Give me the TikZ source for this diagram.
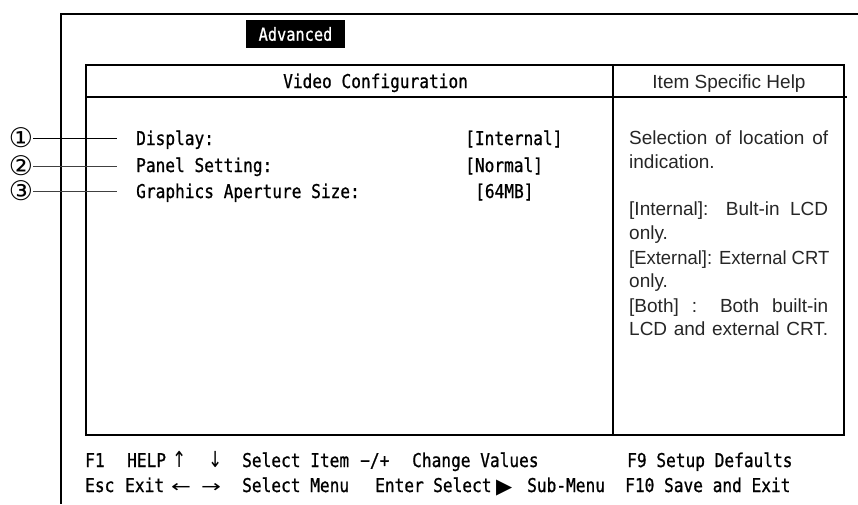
\documentclass[tikz,border=0pt]{standalone}
\usepackage{fontspec}
\usepackage{graphicx}
\setmainfont{Liberation Sans}
\newfontfamily\biosfont[FakeStretch=0.85,FakeBold=0.8]{DejaVu Sans Mono}
\newfontfamily\symfont{DejaVu Sans}
\newcommand\jline[1]{\makebox[199pt][s]{#1}}
\begin{document}
\begin{tikzpicture}[x=1pt,y=-1pt,
  bios/.style={font=\biosfont\fontsize{19}{21}\selectfont, inner sep=0pt, anchor=base west},
  sym/.style={font=\symfont\fontsize{17}{18}\selectfont, inner sep=0pt, anchor=base west},
  help/.style={font=\fontsize{19}{22}\selectfont, inner sep=0pt, anchor=base west, text=black!85},
  frame/.style={line width=2pt},
  boxline/.style={line width=1.3pt},
  lead/.style={line width=1pt},
  num/.style={font=\symfont\fontsize{27}{28}\selectfont, inner sep=0pt}]
\useasboundingbox (0,0) rectangle (858,504);
% outer frame (top and left edges only)
\coordinate (fTL) at (61,14);
\coordinate (fTR) at (858,14);
\coordinate (fBL) at (61,504);
\draw[frame] (fTR) -- (fTL) -- (fBL);
% menu title
\node[fill=black, text=white, minimum width=99pt, minimum height=28pt, inner sep=0pt,
      font=\biosfont\fontsize{18}{20}\selectfont] (adv) at (295.5,34) {Advanced};
% inner box
\coordinate (bTL) at (86,65);
\coordinate (bBR) at (844,435);
\draw[boxline] (bTL) rectangle (bBR);
\coordinate (hL) at (86,97);
\coordinate (hR) at (847,97);
\draw[boxline] (hL) -- (hR);
\coordinate (dT) at (613,65);
\coordinate (dB) at (613,435);
\draw[boxline] (dT) -- (dB);
% headers
\node[bios] (vc) at (283,88) {Video Configuration};
\node[help, anchor=base, text=black!85] (ish) at (729,88) {Item Specific Help};
% items
\node[bios] (i1) at (136,145) {Display:};
\node[bios] (i2) at (136,172) {Panel Setting:};
\node[bios] (i3) at (136,198) {Graphics Aperture Size:};
\node[bios] (v1) at (465,145) {[Internal]};
\node[bios] (v2) at (465,172) {[Normal]};
\node[bios] (v3) at (475,198) {[64MB]};
% callouts
\node[num] (n1) at (21,138) {①};
\node[num] (n2) at (21,166) {②};
\node[num] (n3) at (21,191) {③};
\coordinate (l1) at (117,138);
\coordinate (l2) at (117,166);
\coordinate (l3) at (117,191);
\draw[lead] (n1.east) -- (l1);
\draw[lead, black!75] (n2.east) -- (l2);
\draw[lead, black!75] (n3.east) -- (l3);
% help text
\node[help] (h1) at (629,144) {\jline{Selection of location of}};
\node[help] (h2) at (629,168) {indication.};
\node[help] (h3) at (629,215) {\jline{[Internal]: Bult-in LCD}};
\node[help] (h4) at (629,239) {only.};
\node[help] (h5) at (629,264) {\scalebox{0.97}[1]{[External]: External CRT}};
\node[help] (h6) at (629,287) {only.};
\node[help] (h7) at (629,312) {\jline{[Both] : Both built-in}};
\node[help] (h8) at (629,335) {\makebox[199pt][s]{LCD and external CRT.}};
% footer row 1
\node[bios] (f1) at (85,467) {F1};
\node[bios] (f2) at (127,467) {HELP};
\node[sym] (f3) at (172,467) {\scalebox{1}[1.3]{↑}};
\node[sym] (f4) at (208,467) {\scalebox{1}[1.3]{↓}};
\node[bios] (f5) at (242,467) {Select Item};
\node[bios] (f6) at (360,467) {−/+};
\node[bios] (f7) at (412,467) {Change Values};
\node[bios] (f8) at (627,467) {F9 Setup Defaults};
% footer row 2
\node[bios] (g1) at (85,492) {Esc};
\node[bios] (g2) at (125,492) {Exit};
\node[sym] (g3) at (171,492) {\scalebox{1.4}[1]{←}};
\node[sym] (g4) at (201,492) {\scalebox{1.4}[1]{→}};
\node[bios] (g5) at (242,492) {Select Menu};
\node[bios] (g6) at (375,492) {Enter};
\node[bios] (g7) at (433,492) {Select};
\node[sym, font=\symfont\fontsize{21}{22}\selectfont] (g8) at (496,493) {▶};
\node[bios] (g9) at (527,492) {Sub-Menu};
\node[bios] (g10) at (625,492) {F10 Save and Exit};
\end{tikzpicture}
\end{document}
